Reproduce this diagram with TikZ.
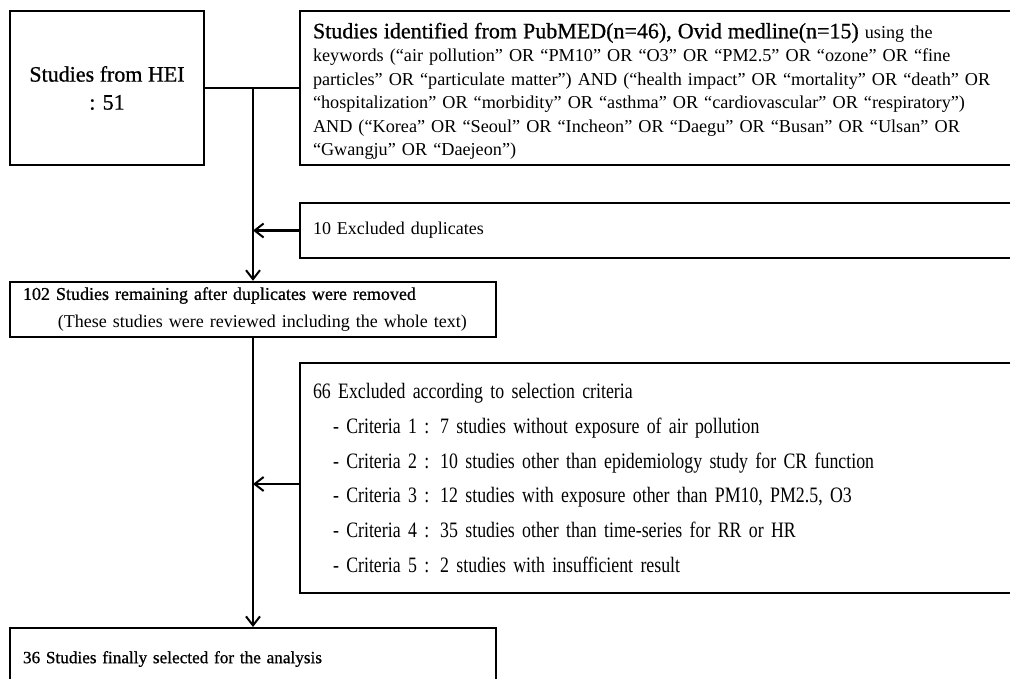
\documentclass[tikz,border=0pt]{standalone}
\usepackage{fontspec}
\setmainfont{Liberation Serif}
\newfontfamily\condserif{Liberation Serif}[FakeStretch=0.81]
\newfontfamily\heavyserif{Liberation Serif}[FakeBold=0.8]
\usetikzlibrary{arrows.meta,positioning}

\begin{document}
\begin{tikzpicture}[
    x=1pt, y=-1pt,
    stagebox/.style={draw=black, line width=2.4pt, fill=white, inner xsep=13pt, inner ysep=0pt, align=left},
    sidebox/.style={stagebox, line width=2pt, minimum width=740pt, text width=714pt},
    link/.style={line width=2.4pt},
    flow/.style={link, -{Straight Barb[length=9pt, width=14pt, line width=2pt]}}
]
\useasboundingbox (0,0) rectangle (1010,678);

% HEI source
\node[stagebox, align=center, minimum width=194pt, minimum height=154pt, font=\heavyserif\fontsize{22}{28}\selectfont] (hei) at (107,88) {
    Studies from HEI\\
    : 51
};

% Database search
\node[sidebox, line width=2.6pt, minimum height=154pt, font=\fontsize{18.2}{23.5}\selectfont] (search) at (670,88) {
    {\heavyserif\fontsize{22}{23.5}\selectfont\rule{0pt}{22pt}Studies identified from PubMED(n=46), Ovid medline(n=15)} using the\\
    keywords (“air pollution” OR “PM10” OR “O3” OR “PM2.5” OR “ozone” OR “fine\\
    particles” OR “particulate matter”) AND (“health impact” OR “mortality” OR “death” OR\\
    “hospitalization” OR “morbidity” OR “asthma” OR “cardiovascular” OR “respiratory”)\\
    AND (“Korea” OR “Seoul” OR “Incheon” OR “Daegu” OR “Busan” OR “Ulsan” OR\\
    “Gwangju” OR “Daejeon”)
};

% Duplicates
\node[sidebox, minimum height=55pt, font=\fontsize{18}{22}\selectfont] (dup) at (670,230.5) {10 Excluded duplicates};

% Remaining studies
\node[stagebox, minimum width=486pt, text width=460pt, minimum height=55pt, font=\fontsize{18}{28}\selectfont] (rem) at (253,309.5) {
    {\heavyserif 102 Studies remaining after duplicates were removed}\\
    \hspace*{35pt}(These studies were reviewed including the whole text)
};

% Selection criteria
\node[sidebox, minimum height=230pt, font=\condserif\fontsize{22}{34.7}\selectfont] (crit) at (670,478) {
    66 Excluded according to selection criteria\\
    \hspace*{20pt}- Criteria 1 : 7 studies without exposure of air pollution\\
    \hspace*{20pt}- Criteria 2 : 10 studies other than epidemiology study for CR function\\
    \hspace*{20pt}- Criteria 3 : 12 studies with exposure other than PM10, PM2.5, O3\\
    \hspace*{20pt}- Criteria 4 : 35 studies other than time-series for RR or HR\\
    \hspace*{20pt}- Criteria 5 : 2 studies with insufficient result
};

% Final selection
\node[stagebox, anchor=north, minimum width=486pt, text width=460pt, inner ysep=22pt, text height=13pt, font=\heavyserif\fontsize{17.2}{22}\selectfont] (final) at (253,627) {36 Studies finally selected for the analysis};

% Connections
\draw[link] (hei.east) -- (hei.east -| search.west);
\draw[flow] (rem.north |- hei.east) -- (rem.north);
\draw[flow] (dup.west) -- (dup.west -| rem.north);
\draw[flow] ([yshift=-6pt]crit.west) -- ([yshift=-6pt]crit.west -| rem.north);
\draw[flow] (rem.south) -- (final.north);

\end{tikzpicture}
\end{document}
